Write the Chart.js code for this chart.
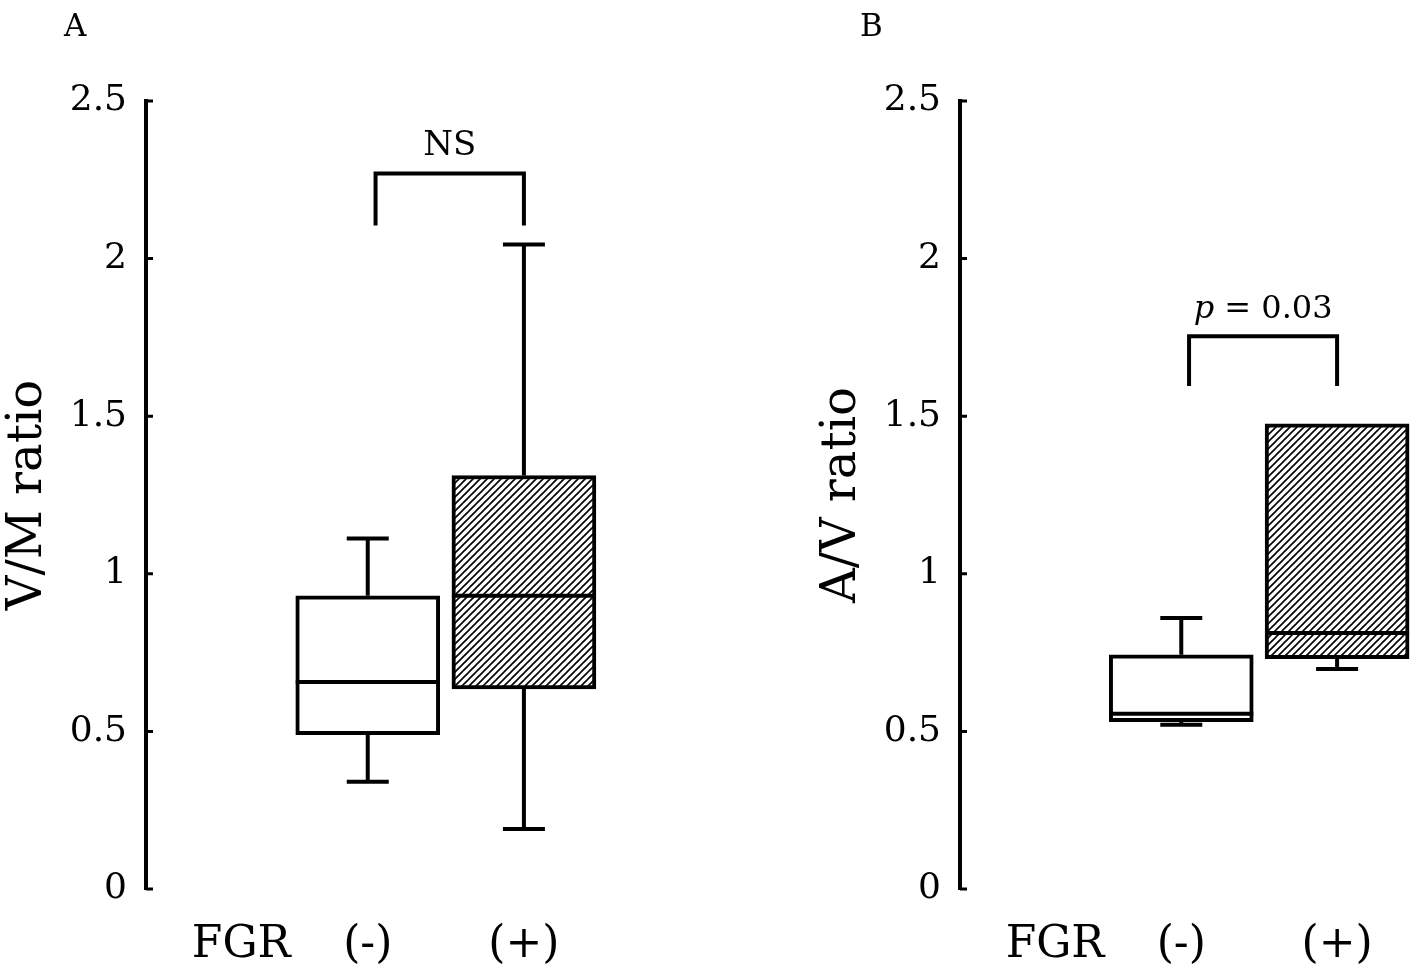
<!DOCTYPE html>
<html>
<head>
<meta charset="utf-8">
<script src="https://cdn.jsdelivr.net/npm/chart.js@4.4.1/dist/chart.umd.min.js"></script>
<style>
  body { margin: 0; background: #fff; }
  .panel { position: absolute; top: 0; height: 972px; }
  #panelA { left: 0; width: 814px; }
  #panelB { left: 814px; width: 603px; }
</style>
</head>
<body>
<div class="panel" id="panelA"><canvas id="chartA"></canvas></div>
<div class="panel" id="panelB"><canvas id="chartB"></canvas></div>
<script>
// categories and tick labels
const groups = ['(-)', '(+)'];
const groupPos = [1, 2];
const xTickValues = [0.19, 1, 2];
const xTickLabels = ['FGR', '(-)', '(+)'];
const yTicks = [0, 0.5, 1, 1.5, 2, 2.5];

// panel A: V/M ratio (min, q1, median, q3, max)
const vmMin = [0.34, 0.19];
const vmQ1 = [0.49, 0.635];
const vmMed = [0.657, 0.93];
const vmQ3 = [0.93, 1.312];
const vmMax = [1.112, 2.045];

// panel B: A/V ratio
const avMin = [0.521, 0.698];
const avQ1 = [0.531, 0.731];
const avMed = [0.556, 0.812];
const avQ3 = [0.743, 1.476];
const avMax = [0.86, 1.476];

const serif = "'DejaVu Serif', 'Liberation Serif', serif";

// diagonal hatch for the FGR(+) boxes
function hatch() {
  const s = 7;
  const c = document.createElement('canvas');
  c.width = s; c.height = s;
  const g = c.getContext('2d');
  g.fillStyle = '#fff';
  g.fillRect(0, 0, s, s);
  g.strokeStyle = '#000';
  g.lineWidth = 1.6;
  g.beginPath();
  g.moveTo(0, s); g.lineTo(s, 0);
  g.moveTo(-1, 1); g.lineTo(1, -1);
  g.moveTo(s - 1, s + 1); g.lineTo(s + 1, s - 1);
  g.stroke();
  return g.createPattern(c, 'repeat');
}

const boxPlugin = {
  id: 'boxExtras',
  afterDatasetsDraw(chart, args, opts) {
    const ctx = chart.ctx;
    const y = chart.scales.y;
    const bars = chart.getDatasetMeta(0).data;
    ctx.save();
    ctx.strokeStyle = '#000';
    ctx.lineWidth = 4;
    ctx.lineCap = 'butt';
    opts.med.forEach((m, i) => {
      const cx = bars[i].x;
      const half = bars[i].width / 2;
      const cap = 21;
      ctx.beginPath();
      // whiskers (skip when the whisker has no length)
      if (opts.max[i] > opts.q3[i]) {
        ctx.moveTo(cx, y.getPixelForValue(opts.q3[i]));
        ctx.lineTo(cx, y.getPixelForValue(opts.max[i]));
        ctx.moveTo(cx - cap, y.getPixelForValue(opts.max[i]));
        ctx.lineTo(cx + cap, y.getPixelForValue(opts.max[i]));
      }
      if (opts.min[i] < opts.q1[i]) {
        ctx.moveTo(cx, y.getPixelForValue(opts.q1[i]));
        ctx.lineTo(cx, y.getPixelForValue(opts.min[i]));
        ctx.moveTo(cx - cap, y.getPixelForValue(opts.min[i]));
        ctx.lineTo(cx + cap, y.getPixelForValue(opts.min[i]));
      }
      // median
      ctx.moveTo(cx - half, y.getPixelForValue(m));
      ctx.lineTo(cx + half, y.getPixelForValue(m));
      ctx.stroke();
    });
    ctx.restore();
  },
  afterDraw(chart, args, opts) {
    const ctx = chart.ctx;
    const x = chart.scales.x, y = chart.scales.y;
    const area = chart.chartArea;
    ctx.save();
    ctx.strokeStyle = '#000';
    ctx.fillStyle = '#000';
    // inward tick marks
    ctx.lineWidth = 3;
    ctx.beginPath();
    yTicks.forEach(v => {
      const py = y.getPixelForValue(v);
      ctx.moveTo(area.left, py);
      ctx.lineTo(area.left + 7, py);
    });
    ctx.stroke();
    // significance bracket
    const b = opts.bracket;
    const x1 = x.getPixelForValue(b.from), x2 = x.getPixelForValue(b.to);
    const yt = y.getPixelForValue(b.top), yb = y.getPixelForValue(b.bottom);
    ctx.lineWidth = 4;
    ctx.lineJoin = 'miter';
    ctx.beginPath();
    ctx.moveTo(x1, yb); ctx.lineTo(x1, yt); ctx.lineTo(x2, yt); ctx.lineTo(x2, yb);
    ctx.stroke();
    // bracket text, italic part first
    ctx.textBaseline = 'alphabetic';
    ctx.textAlign = 'left';
    const it = 'italic 32px ' + serif, rm = b.size + 'px ' + serif;
    ctx.font = it;
    const w1 = ctx.measureText(b.italic).width;
    ctx.font = rm;
    const w2 = ctx.measureText(b.text).width;
    let tx = (x1 + x2) / 2 - (w1 + w2) / 2;
    const ty = yt - 18;
    if (b.italic) { ctx.font = it; ctx.fillText(b.italic, tx, ty); tx += w1; }
    ctx.font = rm;
    ctx.fillText(b.text, tx, ty);
    // panel letter
    ctx.font = '31px ' + serif;
    ctx.fillText(opts.letter, opts.letterX, 36);
    ctx.restore();
  }
};

function makeChart(id, title, mins, q1, med, q3, maxs, extra, padRight) {
  return new Chart(document.getElementById(id), {
    type: 'bar',
    data: {
      datasets: [{
        data: groups.map((g, i) => ({ x: groupPos[i], y: [q1[i], q3[i]] })),
        backgroundColor: ['#ffffff', hatch()],
        borderColor: '#000',
        borderWidth: 4,
        borderSkipped: false,
        barThickness: 144
      }]
    },
    options: {
      responsive: true,
      maintainAspectRatio: false,
      animation: false,
      layout: { padding: { left: 0, right: padRight, top: 101, bottom: 0 } },
      plugins: {
        legend: { display: false },
        tooltip: { enabled: false },
        boxExtras: Object.assign({ min: mins, q1: q1, med: med, q3: q3, max: maxs }, extra)
      },
      scales: {
        x: {
          type: 'linear',
          offset: false,
          min: -0.42,
          max: 2.5,
          grid: { display: false, offset: false },
          border: { display: false },
          afterBuildTicks: s => { s.ticks = xTickValues.map(v => ({ value: v })); },
          afterFit: s => { s.height = 83; },
          ticks: {
            color: '#000',
            padding: 22,
            maxRotation: 0,
            autoSkip: false,
            font: { family: serif, size: 44 },
            callback: (v, i) => xTickLabels[i]
          }
        },
        y: {
          min: 0,
          max: 2.5,
          grid: { display: false, drawTicks: false },
          border: { display: true, color: '#000', width: 4 },
          afterBuildTicks: s => { s.ticks = yTicks.map(v => ({ value: v })); },
          afterFit: s => { s.width = 146; },
          ticks: {
            color: '#000',
            padding: 19,
            font: { family: serif, size: 36 },
            callback: v => String(v)
          },
          title: {
            display: true,
            text: title,
            color: '#000',
            padding: 0,
            font: { family: serif, size: 48, lineHeight: 1.2 }
          }
        }
      }
    },
    plugins: [boxPlugin]
  });
}

makeChart('chartA', 'V/M ratio', vmMin, vmQ1, vmMed, vmQ3, vmMax,
  { letter: 'A', letterX: 64, bracket: { from: 1.05, to: 2, top: 2.27, bottom: 2.105, italic: '', text: 'NS', size: 34 } }, 212);
makeChart('chartB', 'A/V ratio', avMin, avQ1, avMed, avQ3, avMax,
  { letter: 'B', letterX: 46, bracket: { from: 1.05, to: 2, top: 1.754, bottom: 1.596, italic: 'p', text: ' = 0.03', size: 32 } }, 2);
</script>
</body>
</html>
